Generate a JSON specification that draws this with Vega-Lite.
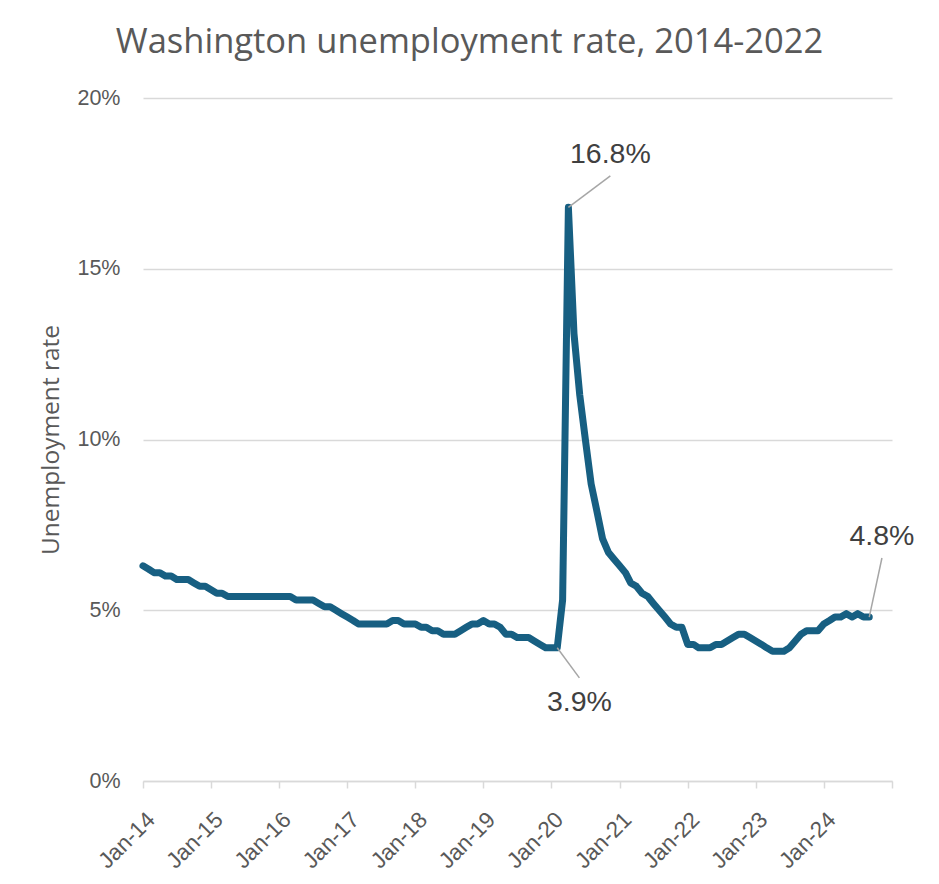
{
  "$schema": "https://vega.github.io/schema/vega-lite/v6.json",
  "width": 749,
  "height": 683,
  "autosize": {"type": "none"},
  "padding": {"left": 143, "top": 98, "right": 47, "bottom": 103},
  "background": "white",
  "title": {
    "text": "Washington unemployment rate, 2014-2022",
    "font": "Open Sans",
    "fontSize": 34.5,
    "fontWeight": "normal",
    "color": "#595959",
    "anchor": "middle",
    "dx": -48,
    "offset": 27
  },
  "datasets": {
    "rates": [
      {"date": "2014-01-01", "rate": 6.3},
      {"date": "2014-02-01", "rate": 6.2},
      {"date": "2014-03-01", "rate": 6.1},
      {"date": "2014-04-01", "rate": 6.1},
      {"date": "2014-05-01", "rate": 6.0},
      {"date": "2014-06-01", "rate": 6.0},
      {"date": "2014-07-01", "rate": 5.9},
      {"date": "2014-08-01", "rate": 5.9},
      {"date": "2014-09-01", "rate": 5.9},
      {"date": "2014-10-01", "rate": 5.8},
      {"date": "2014-11-01", "rate": 5.7},
      {"date": "2014-12-01", "rate": 5.7},
      {"date": "2015-01-01", "rate": 5.6},
      {"date": "2015-02-01", "rate": 5.5},
      {"date": "2015-03-01", "rate": 5.5},
      {"date": "2015-04-01", "rate": 5.4},
      {"date": "2015-05-01", "rate": 5.4},
      {"date": "2015-06-01", "rate": 5.4},
      {"date": "2015-07-01", "rate": 5.4},
      {"date": "2015-08-01", "rate": 5.4},
      {"date": "2015-09-01", "rate": 5.4},
      {"date": "2015-10-01", "rate": 5.4},
      {"date": "2015-11-01", "rate": 5.4},
      {"date": "2015-12-01", "rate": 5.4},
      {"date": "2016-01-01", "rate": 5.4},
      {"date": "2016-02-01", "rate": 5.4},
      {"date": "2016-03-01", "rate": 5.4},
      {"date": "2016-04-01", "rate": 5.3},
      {"date": "2016-05-01", "rate": 5.3},
      {"date": "2016-06-01", "rate": 5.3},
      {"date": "2016-07-01", "rate": 5.3},
      {"date": "2016-08-01", "rate": 5.2},
      {"date": "2016-09-01", "rate": 5.1},
      {"date": "2016-10-01", "rate": 5.1},
      {"date": "2016-11-01", "rate": 5.0},
      {"date": "2016-12-01", "rate": 4.9},
      {"date": "2017-01-01", "rate": 4.8},
      {"date": "2017-02-01", "rate": 4.7},
      {"date": "2017-03-01", "rate": 4.6},
      {"date": "2017-04-01", "rate": 4.6},
      {"date": "2017-05-01", "rate": 4.6},
      {"date": "2017-06-01", "rate": 4.6},
      {"date": "2017-07-01", "rate": 4.6},
      {"date": "2017-08-01", "rate": 4.6},
      {"date": "2017-09-01", "rate": 4.7},
      {"date": "2017-10-01", "rate": 4.7},
      {"date": "2017-11-01", "rate": 4.6},
      {"date": "2017-12-01", "rate": 4.6},
      {"date": "2018-01-01", "rate": 4.6},
      {"date": "2018-02-01", "rate": 4.5},
      {"date": "2018-03-01", "rate": 4.5},
      {"date": "2018-04-01", "rate": 4.4},
      {"date": "2018-05-01", "rate": 4.4},
      {"date": "2018-06-01", "rate": 4.3},
      {"date": "2018-07-01", "rate": 4.3},
      {"date": "2018-08-01", "rate": 4.3},
      {"date": "2018-09-01", "rate": 4.4},
      {"date": "2018-10-01", "rate": 4.5},
      {"date": "2018-11-01", "rate": 4.6},
      {"date": "2018-12-01", "rate": 4.6},
      {"date": "2019-01-01", "rate": 4.7},
      {"date": "2019-02-01", "rate": 4.6},
      {"date": "2019-03-01", "rate": 4.6},
      {"date": "2019-04-01", "rate": 4.5},
      {"date": "2019-05-01", "rate": 4.3},
      {"date": "2019-06-01", "rate": 4.3},
      {"date": "2019-07-01", "rate": 4.2},
      {"date": "2019-08-01", "rate": 4.2},
      {"date": "2019-09-01", "rate": 4.2},
      {"date": "2019-10-01", "rate": 4.1},
      {"date": "2019-11-01", "rate": 4.0},
      {"date": "2019-12-01", "rate": 3.9},
      {"date": "2020-01-01", "rate": 3.9},
      {"date": "2020-02-01", "rate": 3.9},
      {"date": "2020-03-01", "rate": 5.3},
      {"date": "2020-04-01", "rate": 16.8},
      {"date": "2020-05-01", "rate": 13.1},
      {"date": "2020-06-01", "rate": 11.3},
      {"date": "2020-07-01", "rate": 10.0},
      {"date": "2020-08-01", "rate": 8.7},
      {"date": "2020-09-01", "rate": 7.9},
      {"date": "2020-10-01", "rate": 7.1},
      {"date": "2020-11-01", "rate": 6.7},
      {"date": "2020-12-01", "rate": 6.5},
      {"date": "2021-01-01", "rate": 6.3},
      {"date": "2021-02-01", "rate": 6.1},
      {"date": "2021-03-01", "rate": 5.8},
      {"date": "2021-04-01", "rate": 5.7},
      {"date": "2021-05-01", "rate": 5.5},
      {"date": "2021-06-01", "rate": 5.4},
      {"date": "2021-07-01", "rate": 5.2},
      {"date": "2021-08-01", "rate": 5.0},
      {"date": "2021-09-01", "rate": 4.8},
      {"date": "2021-10-01", "rate": 4.6},
      {"date": "2021-11-01", "rate": 4.5},
      {"date": "2021-12-01", "rate": 4.5},
      {"date": "2022-01-01", "rate": 4.0},
      {"date": "2022-02-01", "rate": 4.0},
      {"date": "2022-03-01", "rate": 3.9},
      {"date": "2022-04-01", "rate": 3.9},
      {"date": "2022-05-01", "rate": 3.9},
      {"date": "2022-06-01", "rate": 4.0},
      {"date": "2022-07-01", "rate": 4.0},
      {"date": "2022-08-01", "rate": 4.1},
      {"date": "2022-09-01", "rate": 4.2},
      {"date": "2022-10-01", "rate": 4.3},
      {"date": "2022-11-01", "rate": 4.3},
      {"date": "2022-12-01", "rate": 4.2},
      {"date": "2023-01-01", "rate": 4.1},
      {"date": "2023-02-01", "rate": 4.0},
      {"date": "2023-03-01", "rate": 3.9},
      {"date": "2023-04-01", "rate": 3.8},
      {"date": "2023-05-01", "rate": 3.8},
      {"date": "2023-06-01", "rate": 3.8},
      {"date": "2023-07-01", "rate": 3.9},
      {"date": "2023-08-01", "rate": 4.1},
      {"date": "2023-09-01", "rate": 4.3},
      {"date": "2023-10-01", "rate": 4.4},
      {"date": "2023-11-01", "rate": 4.4},
      {"date": "2023-12-01", "rate": 4.4},
      {"date": "2024-01-01", "rate": 4.6},
      {"date": "2024-02-01", "rate": 4.7},
      {"date": "2024-03-01", "rate": 4.8},
      {"date": "2024-04-01", "rate": 4.8},
      {"date": "2024-05-01", "rate": 4.9},
      {"date": "2024-06-01", "rate": 4.8},
      {"date": "2024-07-01", "rate": 4.9},
      {"date": "2024-08-01", "rate": 4.8},
      {"date": "2024-09-01", "rate": 4.8}
    ],
    "notes": [
      {"date": "2020-04-01", "rate": 16.8, "label": "16.8%", "ldate": "2020-11-12", "lrate": 17.72},
      {"date": "2020-02-01", "rate": 3.9, "label": "3.9%", "ldate": "2020-05-30", "lrate": 3.02},
      {"date": "2024-09-01", "rate": 4.8, "label": "4.8%", "ldate": "2024-11-08", "lrate": 6.53}
    ]
  },
  "layer": [
    {
      "data": {"name": "rates"},
      "mark": {"type": "line", "color": "#175f82", "strokeWidth": 7, "strokeJoin": "round", "strokeCap": "round"},
      "encoding": {
        "x": {
          "field": "date",
          "type": "temporal",
          "scale": {
            "type": "utc",
            "domain": [
              {"year": 2014, "month": 1, "date": 1, "utc": true},
              {"year": 2025, "month": 1, "date": 1, "utc": true}
            ]
          },
          "axis": {
            "title": null,
            "values": [
              {"year": 2014, "month": 1, "date": 1, "utc": true},
              {"year": 2015, "month": 1, "date": 1, "utc": true},
              {"year": 2016, "month": 1, "date": 1, "utc": true},
              {"year": 2017, "month": 1, "date": 1, "utc": true},
              {"year": 2018, "month": 1, "date": 1, "utc": true},
              {"year": 2019, "month": 1, "date": 1, "utc": true},
              {"year": 2020, "month": 1, "date": 1, "utc": true},
              {"year": 2021, "month": 1, "date": 1, "utc": true},
              {"year": 2022, "month": 1, "date": 1, "utc": true},
              {"year": 2023, "month": 1, "date": 1, "utc": true},
              {"year": 2024, "month": 1, "date": 1, "utc": true},
              {"year": 2025, "month": 1, "date": 1, "utc": true}
            ],
            "format": "%b-%y",
            "labelExpr": "utcyear(datum.value) >= 2025 ? '' : datum.label",
            "labelAngle": -45,
            "labelFont": "Liberation Sans",
            "labelFontSize": 22.5,
            "labelColor": "#595959",
            "labelFlush": false,
            "labelOverlap": false,
            "labelPadding": 20,
            "grid": false,
            "domainColor": "#d9d9d9",
            "domainWidth": 1.5,
            "tickColor": "#d9d9d9",
            "tickWidth": 1.5,
            "tickSize": 7
          }
        },
        "y": {
          "field": "rate",
          "type": "quantitative",
          "scale": {"domain": [0, 20]},
          "axis": {
            "title": "Unemployment rate",
            "titleFont": "Open Sans",
            "titleFontSize": 24.5,
            "titleFontWeight": "normal",
            "titleColor": "#595959",
            "titlePadding": 13,
            "values": [0, 5, 10, 15, 20],
            "labelExpr": "datum.value + '%'",
            "labelFont": "Liberation Sans",
            "labelFontSize": 21.5,
            "labelColor": "#595959",
            "labelPadding": 23,
            "domain": false,
            "ticks": false,
            "grid": true,
            "gridColor": "#d9d9d9",
            "gridWidth": 1.5
          }
        }
      }
    },
    {
      "data": {"name": "notes"},
      "mark": {"type": "rule", "color": "#a6a6a6", "strokeWidth": 1.5},
      "encoding": {
        "x": {"field": "date", "type": "temporal"},
        "y": {"field": "rate", "type": "quantitative"},
        "x2": {"field": "ldate"},
        "y2": {"field": "lrate"}
      }
    },
    {
      "data": {"name": "notes"},
      "transform": [{"filter": "datum.lrate > datum.rate"}],
      "mark": {"type": "text", "font": "Liberation Sans", "fontSize": 28.5, "color": "#404040", "baseline": "alphabetic", "align": "center", "dy": -13},
      "encoding": {
        "x": {"field": "ldate", "type": "temporal"},
        "y": {"field": "lrate", "type": "quantitative"},
        "text": {"field": "label"}
      }
    },
    {
      "data": {"name": "notes"},
      "transform": [{"filter": "datum.lrate < datum.rate"}],
      "mark": {"type": "text", "font": "Liberation Sans", "fontSize": 28.5, "color": "#404040", "baseline": "top", "align": "center", "dy": 10},
      "encoding": {
        "x": {"field": "ldate", "type": "temporal"},
        "y": {"field": "lrate", "type": "quantitative"},
        "text": {"field": "label"}
      }
    }
  ],
  "config": {"view": {"stroke": null}}
}
